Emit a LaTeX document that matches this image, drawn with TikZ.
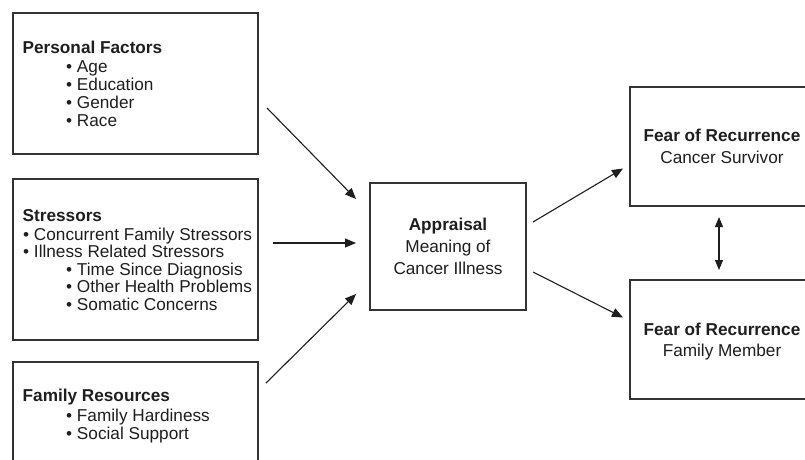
\documentclass[tikz,border=0pt]{standalone}
\usepackage{fontspec}
\setmainfont{Liberation Sans}
\usetikzlibrary{arrows.meta}
\definecolor{ink}{HTML}{1E1E1E}
\definecolor{edge}{HTML}{333333}
\tikzset{
  box/.style={draw=edge, line width=1.3pt, inner sep=0pt, fill=none},
  txt/.style={anchor=base west, inner sep=0pt, text=ink, font=\fontsize{17.2}{18}\selectfont},
  hd/.style={txt, font=\fontsize{17.2}{18}\selectfont\bfseries},
  ctxt/.style={anchor=base, inner sep=0pt, text=ink, font=\fontsize{17.2}{18}\selectfont},
  chd/.style={ctxt, font=\fontsize{17.2}{18}\selectfont\bfseries},
  conn/.style={draw=ink, line width=1.1pt, -{Triangle[length=11pt,width=9pt]}},
  conn2/.style={draw=ink, line width=1.1pt, {Triangle[length=10pt,width=8pt]}-{Triangle[length=10pt,width=8pt]}}
}
\begin{document}
\begin{tikzpicture}[x=1pt,y=-1pt]
\useasboundingbox (0,0) rectangle (805,459);
\clip (0,0) rectangle (805,459);
\fill[white] (0,0) rectangle (805,459);
% boxes
\node[box, minimum width=245pt, minimum height=141pt] (pf) at (135.5,83.5) {};
\node[box, minimum width=245pt, minimum height=161pt] (st) at (135.5,259.5) {};
\node[box, minimum width=245pt, minimum height=120pt] (fr) at (135.5,422) {};
\node[box, minimum width=156pt, minimum height=127pt] (ap) at (448,246.5) {};
\node[box, minimum width=200pt, minimum height=119pt] (fs) at (730,146.5) {};
\node[box, minimum width=200pt, minimum height=119pt] (fm) at (730,339.5) {};
% personal factors
\node[hd] (pf0) at (22.5,53.3) {Personal Factors};
\node[txt] (pf1) at (66,72.7) {• Age};
\node[txt] (pf2) at (66,90.5) {• Education};
\node[txt] (pf3) at (66,108.3) {• Gender};
\node[txt] (pf4) at (66,126.1) {• Race};
% stressors
\node[hd] (st0) at (22.5,221.7) {Stressors};
\node[txt] (st1) at (23,240) {• Concurrent Family Stressors};
\node[txt] (st2) at (23,257.5) {• Illness Related Stressors};
\node[txt] (st3) at (66,275) {• Time Since Diagnosis};
\node[txt] (st4) at (66,292.6) {• Other Health Problems};
\node[txt] (st5) at (66,310.2) {• Somatic Concerns};
% family resources
\node[hd] (fr0) at (22.5,401.7) {Family Resources};
\node[txt] (fr1) at (66,421.7) {• Family Hardiness};
\node[txt] (fr2) at (66,439.3) {• Social Support};
% appraisal
\node[chd] (ap0) at (448,230.7) {Appraisal};
\node[ctxt] (ap1) at (448,252.7) {Meaning of};
\node[ctxt] (ap2) at (448,274.5) {Cancer Illness};
% fear boxes
\node[chd] (fs0) at (722,141.7) {Fear of Recurrence};
\node[ctxt] (fs1) at (722,163.7) {Cancer Survivor};
\node[chd] (fm0) at (722,335) {Fear of Recurrence};
\node[ctxt] (fm1) at (722,356.7) {Family Member};
% connector ends
\coordinate (a1s) at (267,108);  \coordinate (a1e) at (356,199);
\coordinate (a2s) at (273,243);  \coordinate (a2e) at (356,243);
\coordinate (a3s) at (266,383);  \coordinate (a3e) at (356,294);
\coordinate (a4s) at (533,222);  \coordinate (a4e) at (623,168.5);
\coordinate (a5s) at (533,272);  \coordinate (a5e) at (623,317.5);
\coordinate (a6s) at (719,217);  \coordinate (a6e) at (719,270);
\draw[conn] (a1s) -- (a1e);
\draw[conn] (a2s) -- (a2e);
\draw[conn] (a3s) -- (a3e);
\draw[conn] (a4s) -- (a4e);
\draw[conn] (a5s) -- (a5e);
\draw[conn2] (a6s) -- (a6e);
\end{tikzpicture}
\end{document}
